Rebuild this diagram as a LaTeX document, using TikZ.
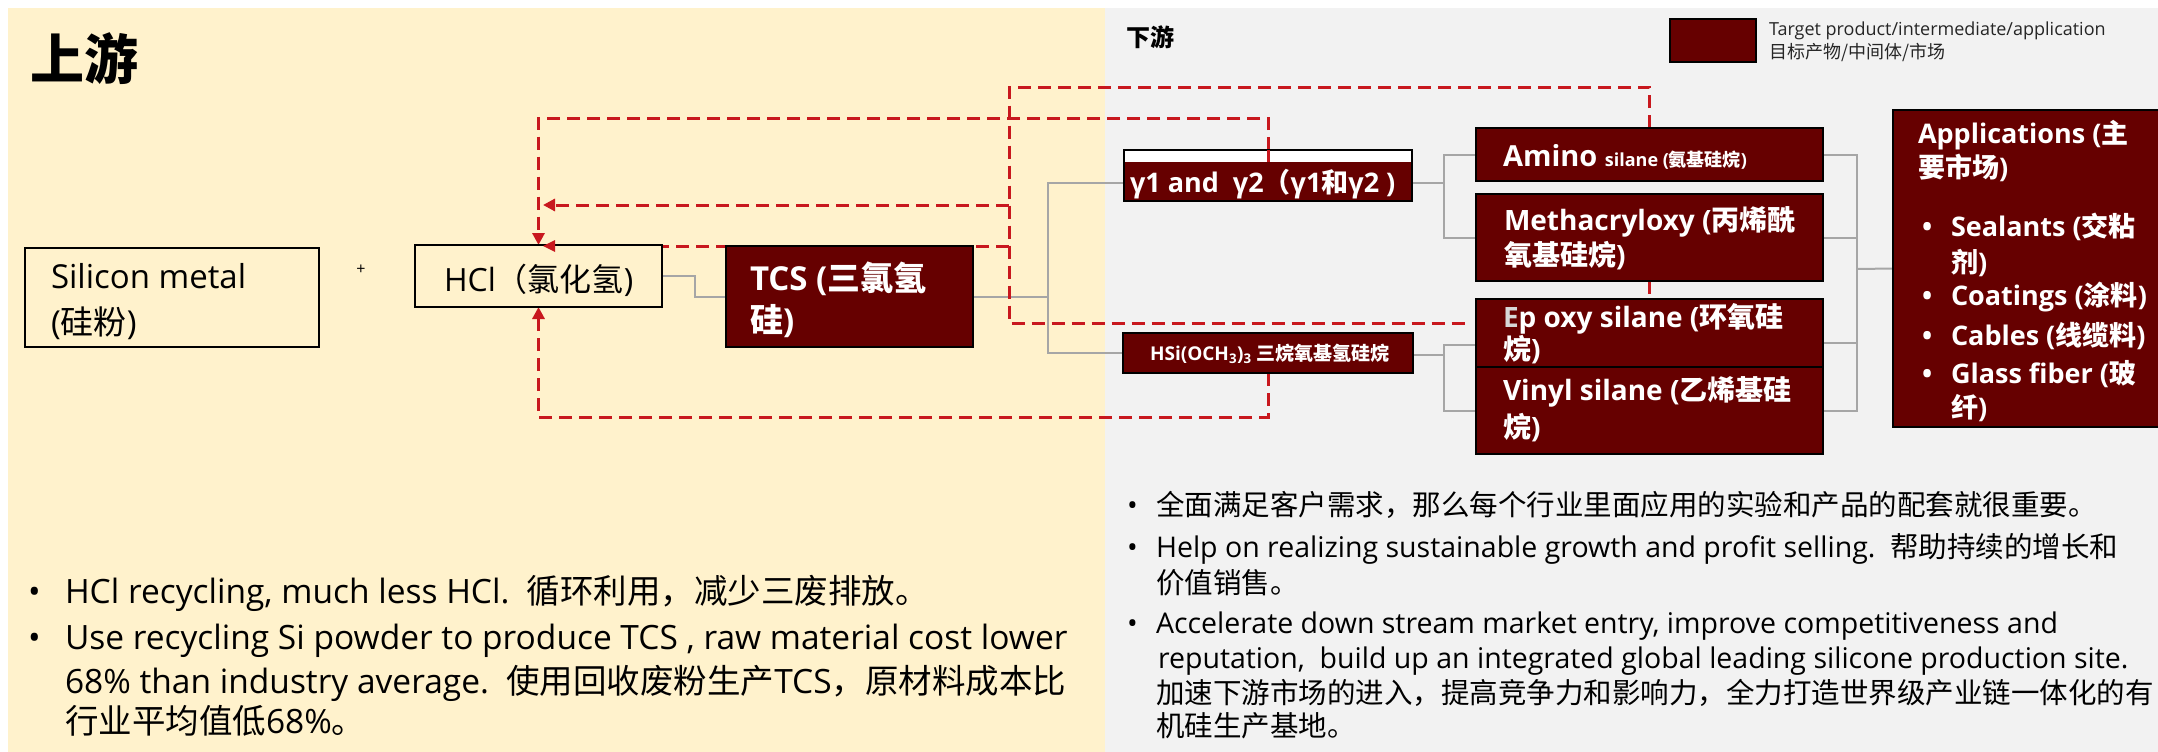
\documentclass[tikz,border=0pt]{standalone}
\usepackage{fontspec}
\setmainfont{Open Sans}
\newfontfamily\cjk{Noto Sans CJK SC}
\newcommand\cn[1]{{\cjk #1}}
\newcommand\fsz[1]{\fontsize{#1pt}{#1pt}\selectfont}
\usetikzlibrary{arrows.meta}
\definecolor{dred}{RGB}{102,0,0}
\definecolor{rline}{RGB}{200,24,30}
\definecolor{cgray}{RGB}{166,166,166}
\definecolor{ybg}{RGB}{255,242,204}
\definecolor{gbg}{RGB}{242,242,242}
\definecolor{egray}{RGB}{215,215,215}
\definecolor{ltxt}{RGB}{38,38,38}
\pgfdeclarelayer{back}
\pgfdeclarelayer{lines}
\pgfsetlayers{back,lines,main}
\begin{document}
\begin{tikzpicture}[x=1pt,y=-1pt,
  every node/.style={inner sep=0pt,outer sep=0pt},
  conn/.style={draw=cgray,line width=2pt},
  rdash/.style={draw=rline,line width=3pt,dash pattern=on 13pt off 7pt},
  rtip/.style={-{Triangle[length=12pt,width=12pt]}},
  dbox/.style={draw=black,line width=2pt,fill=dred},
  ybox/.style={draw=black,line width=2.5pt,fill=ybg},
  txt/.style={anchor=base west},
  wtxt/.style={anchor=base west,text=white}]
\useasboundingbox (0,0) rectangle (2158,752);
\begin{pgfonlayer}{back}
\fill[white] (0,0) rectangle (2158,752);
\fill[ybg] (8,8) rectangle (1105,752);
\fill[gbg] (1105,8) rectangle (2158,752);
\end{pgfonlayer}

% ---------- boxes ----------
\node[ybox,minimum width=294pt,minimum height=99pt] (sil) at (172,297.5) {};
\node[ybox,minimum width=247pt,minimum height=62pt] (hcl) at (538.5,276) {};
\node[dbox,minimum width=247pt,minimum height=101pt] (tcs) at (849.5,296.5) {};
\node[draw=black,line width=2pt,fill=white,minimum width=288pt,minimum height=51pt] (gam) at (1268,175.5) {};
\node[dbox,minimum width=290pt,minimum height=40pt] (hsi) at (1268,353) {};
\node[dbox,minimum width=347pt,minimum height=53pt] (ami) at (1649.5,154.5) {};
\node[dbox,minimum width=347pt,minimum height=87pt] (met) at (1649.5,237.5) {};
\node[dbox,minimum width=347pt,minimum height=68pt] (epo) at (1649.5,333) {};
\node[dbox,minimum width=347pt,minimum height=87pt] (vin) at (1649.5,410.5) {};
\node[dbox,minimum width=272pt,minimum height=317pt] (app) at (2029,268.5) {};
\node[dbox,line width=2.5pt,minimum width=86pt,minimum height=43pt] (leg) at (1713,40.5) {};

% gamma box: red line in white strip, then dark fill
\draw[rline,line width=3pt] (gam.north) -- ++(0,12);
\fill[dred] ([xshift=1pt,yshift=-12pt]gam.north west) rectangle ([xshift=-1pt,yshift=1pt]gam.south east);

% ---------- coordinates ----------
\coordinate (jL) at (1048,296.5);
\coordinate (jR) at (1444,183);
\coordinate (jR2) at (1444,355);
\coordinate (jA) at (1857,269);
\coordinate (oTL) at (1009,87);
\coordinate (oEnd) at (1467,323);
\coordinate (b1) at (1009,205);
\coordinate (b1e) at (543,205);
\coordinate (b2) at (1009,246);
\coordinate (b2e) at (543,246);

% ---------- connectors ----------
\begin{pgfonlayer}{lines}
\draw[conn] (hcl.east) -- ++(33,0) |- (tcs.west);
\draw[conn] (tcs.east) -- (jL);
\draw[conn] ([yshift=-7.5pt]gam.west) -| (jL) |- (hsi.west);
\draw[conn] ([yshift=-7.5pt]gam.east) -- (jR);
\draw[conn] (ami.west) -| (jR) |- (met.west);
\draw[conn] ([yshift=-2pt]hsi.east) -- (jR2);
\draw[conn] ([yshift=-12pt]epo.west) -| (jR2) |- (vin.west);
\draw[conn] (ami.east) -| (jA) |- (vin.east);
\draw[conn] (met.east) -- (met.east -| jA);
\draw[conn] ([yshift=-10pt]epo.east) -- ([yshift=-10pt]epo.east -| jA);
\draw[conn] (jA) -- (app.west);
\draw[rdash] (ami.north) |- (oTL) |- (oEnd);
\draw[rdash] (met.south) -- (epo.north);
\draw[rdash,rtip] (b1) -- (b1e);
\draw[rdash] (b2) -- (b2e);
\draw[rdash,rtip] (gam.north) -- ++(0,-32) -| (hcl.north);
\draw[rdash,rtip] (hsi.south) -- ++(0,44) -| (hcl.south);
\end{pgfonlayer}
\fill[rline] (b2e) -- ++(12,-6) -- ++(0,12) -- cycle;

% ---------- titles and legend ----------
\node[txt,font=\fsz{54}\bfseries] (up) at (30,79) {\cn{上游}};
\node[txt,font=\fsz{24}\bfseries] (down) at (1126,47) {\cn{下游}};
\node[txt,font=\fsz{18},text=ltxt] (leg1) at (1769,36) {Target product/intermediate/application};
\node[txt,font=\fsz{18},text=ltxt] (leg2) at (1769,59) {\cn{目标产物/中间体/市场}};

% ---------- left diagram texts ----------
\node[txt,font=\fsz{33}] (silt1) at (51,288) {Silicon metal};
\node[txt,font=\fsz{33}] (silt2) at (51,334) {(\cn{硅粉})};
\node[font=\fsz{16}] (plus) at (361,270) {+};
\node[txt,font=\fsz{32}] (hclt) at (444,291) {HCl\cn{（氯化氢})};
\node[wtxt,font=\fsz{33}\bfseries] (tcst1) at (750,290) {TCS (\cn{三氯氢}};
\node[wtxt,font=\fsz{33}\bfseries] (tcst2) at (750,332) {\cn{硅})};

% ---------- right diagram texts ----------
\node[wtxt,font=\fsz{27}\bfseries] (gamt) at (1130,192) {γ1 and\ \ γ2\cn{（}γ1\cn{和}γ2 )};
\node[wtxt,font=\fsz{19}\bfseries] (hsit) at (1150,360) {HSi(OCH\textsubscript{3})\textsubscript{3} \cn{三烷氧基氢硅烷}};
\node[wtxt,font=\fsz{29}\bfseries] (amit) at (1503,166) {Amino {\fsz{18}silane (\cn{氨基硅烷})}};
\node[wtxt,font=\fsz{28}\bfseries] (mett1) at (1504,230) {Methacryloxy (\cn{丙烯酰}};
\node[wtxt,font=\fsz{28}\bfseries] (mett2) at (1504,265) {\cn{氧基硅烷})};
\node[wtxt,font=\fsz{28}\bfseries] (epot1) at (1503,327) {{\color{egray}E}p oxy silane (\cn{环氧硅}};
\node[wtxt,font=\fsz{28}\bfseries] (epot2) at (1503,359) {\cn{烷})};
\node[wtxt,font=\fsz{28}\bfseries] (vint1) at (1503,400) {Vinyl silane (\cn{乙烯基硅}};
\node[wtxt,font=\fsz{28}\bfseries] (vint2) at (1503,437) {\cn{烷})};
\node[wtxt,font=\fsz{27}\bfseries] (appt1) at (1918,143) {Applications (\cn{主}};
\node[wtxt,font=\fsz{27}\bfseries] (appt2) at (1918,177) {\cn{要市场})};
\node[wtxt,font=\fsz{27}\bfseries] (ab1) at (1922,236) {•};
\node[wtxt,font=\fsz{27}\bfseries] (ai1) at (1951,236) {Sealants (\cn{交粘}};
\node[wtxt,font=\fsz{27}\bfseries] (ai1b) at (1951,272) {\cn{剂})};
\node[wtxt,font=\fsz{27}\bfseries] (ab2) at (1922,305) {•};
\node[wtxt,font=\fsz{27}\bfseries] (ai2) at (1951,305) {Coatings (\cn{涂料})};
\node[wtxt,font=\fsz{27}\bfseries] (ab3) at (1922,345) {•};
\node[wtxt,font=\fsz{27}\bfseries] (ai3) at (1951,345) {Cables (\cn{线缆料})};
\node[wtxt,font=\fsz{27}\bfseries] (ab4) at (1922,383) {•};
\node[wtxt,font=\fsz{27}\bfseries] (ai4) at (1951,383) {Glass fiber (\cn{玻}};
\node[wtxt,font=\fsz{27}\bfseries] (ai4b) at (1951,417) {\cn{纤})};

% ---------- bottom-left bullets ----------
\node[txt,font=\fsz{33.5}] (lb1) at (28,603) {•};
\node[txt,font=\fsz{33.5}] (l1) at (65,603) {HCl recycling, much less HCl.\ \ \cn{循环利用，减少三废排放。}};
\node[txt,font=\fsz{33.5}] (lb2) at (28,649) {•};
\node[txt,font=\fsz{33.5}] (l2) at (65,649) {Use recycling Si powder to produce TCS , raw material cost lower};
\node[txt,font=\fsz{33.5}] (l3) at (65,693) {68\% than industry average.\ \ \cn{使用回收废粉生产}TCS\cn{，原材料成本比}};
\node[txt,font=\fsz{33.5}] (l4) at (65,733) {\cn{行业平均值低}68\%\cn{。}};

% ---------- bottom-right bullets ----------
\node[txt,font=\fsz{28.5}] (rb1) at (1127,515) {•};
\node[txt,font=\fsz{28.5}] (r1) at (1156,515) {\cn{全面满足客户需求，那么每个行业里面应用的实验和产品的配套就很重要。}};
\node[txt,font=\fsz{28.5}] (rb2) at (1127,557) {•};
\node[txt,font=\fsz{28.5}] (r2) at (1156,557) {Help on realizing sustainable growth and profit selling.\ \ \cn{帮助持续的增长和}};
\node[txt,font=\fsz{28.5}] (r3) at (1156,593) {\cn{价值销售。}};
\node[txt,font=\fsz{28.5}] (rb3) at (1127,633) {•};
\node[txt,font=\fsz{28.5}] (r4) at (1156,633) {Accelerate down stream market entry, improve competitiveness and};
\node[txt,font=\fsz{28.5}] (r5) at (1158,668) {reputation,\ \ build up an integrated global leading silicone production site.};
\node[txt,font=\fsz{28.5}] (r6) at (1156,703) {\cn{加速下游市场的进入，提高竞争力和影响力，全力打造世界级产业链一体化的有}};
\node[txt,font=\fsz{28.5}] (r7) at (1156,736) {\cn{机硅生产基地。}};
\end{tikzpicture}
\end{document}
